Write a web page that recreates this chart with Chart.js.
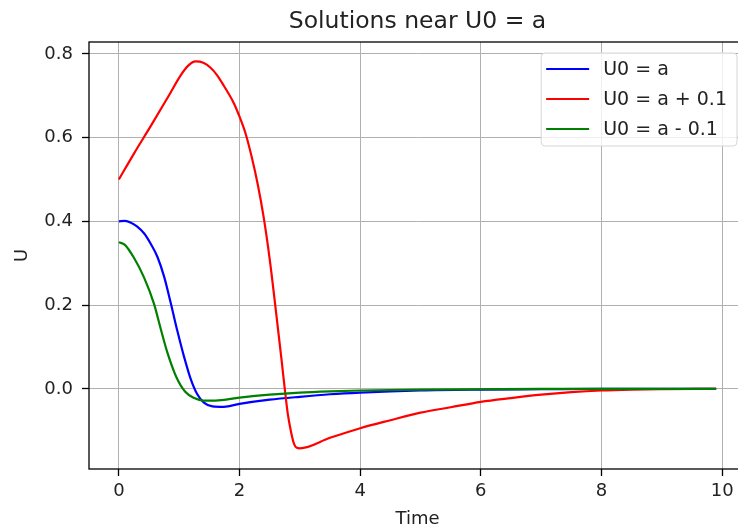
<!DOCTYPE html>
<html>
<head>
<meta charset="utf-8">
<title>Solutions near U0 = a</title>
<script src="https://cdn.jsdelivr.net/npm/chart.js@4.4.1/dist/chart.umd.min.js"></script>
<style>
    html, body { margin: 0; padding: 0; background: #fff; overflow: hidden; }
    canvas { display: block; }
</style>
</head>
<body>
<canvas id="chart" width="760" height="532"></canvas>
<script>
'use strict';

// values
var timeBlue = [0, 0.1, 0.2, 0.3, 0.42, 0.53, 0.64, 0.75, 0.86, 0.97, 1.08, 1.19, 1.3, 1.41, 1.55, 1.74, 2.0, 2.5, 3.0, 3.5, 4.0, 5.0, 6.0, 7.0, 8.0, 9.0, 9.9];
var uBlue = [0.400, 0.401, 0.397, 0.388, 0.371, 0.346, 0.315, 0.268, 0.205, 0.138, 0.077, 0.024, -0.013, -0.033, -0.042, -0.043, -0.036, -0.026, -0.019, -0.013, -0.009, -0.004, -0.002, -0.001, 0, 0, 0];

var timeRed = [0, 0.25, 0.53, 0.81, 1.03, 1.15, 1.27, 1.4, 1.52, 1.63, 1.74, 1.9, 2.0, 2.1, 2.2, 2.3, 2.4, 2.5, 2.6, 2.7, 2.75, 2.8, 2.85, 2.9, 2.95, 3.0, 3.5, 4.0, 4.5, 5.0, 5.5, 6.0, 6.5, 7.0, 7.5, 8.0, 8.5, 9.0, 9.9];
var uRed = [0.500, 0.562, 0.628, 0.696, 0.750, 0.772, 0.782, 0.779, 0.767, 0.749, 0.724, 0.684, 0.650, 0.610, 0.555, 0.490, 0.410, 0.310, 0.190, 0.065, 0.000, -0.060, -0.100, -0.130, -0.141, -0.142, -0.117, -0.094, -0.075, -0.057, -0.044, -0.031, -0.022, -0.014, -0.008, -0.004, -0.002, -0.001, 0];

var timeGreen = [0, 0.1, 0.25, 0.42, 0.58, 0.7, 0.81, 0.95, 1.1, 1.25, 1.4, 1.6, 2.0, 2.5, 3.0, 3.5, 4.0, 5.0, 6.0, 7.0, 8.0, 9.0, 9.9];
var uGreen = [0.350, 0.344, 0.313, 0.265, 0.204, 0.140, 0.084, 0.029, -0.007, -0.022, -0.028, -0.028, -0.021, -0.014, -0.009, -0.006, -0.004, -0.002, -0.001, 0, 0, 0, 0];

var seriesLabels = ['U0 = a', 'U0 = a + 0.1', 'U0 = a - 0.1'];
var seriesColors = ['#0000ff', '#ff0000', '#008000'];

var xTicks = [0, 2, 4, 6, 8, 10];
var yTicks = [0.0, 0.2, 0.4, 0.6, 0.8];

var FONT = "'DejaVu Sans', sans-serif";
var INK = '#222';

var toPoints = function (xs, ys) {
    return xs.map(function (x, i) { return { x: x, y: ys[i] }; });
};

var makeSet = function (index, xs, ys) {
    return {
        label: seriesLabels[index],
        data: toPoints(xs, ys),
        borderColor: seriesColors[index],
        backgroundColor: seriesColors[index],
        borderWidth: 2.2,
        pointRadius: 0,
        fill: false,
        cubicInterpolationMode: 'monotone',
        // later series on top, as matplotlib draws them
        order: seriesLabels.length - 1 - index
    };
};

// spines: matplotlib draws a box round the axes
var frame = {
    id: 'frame',
    afterDatasetsDraw: function (chart) {
        var a = chart.chartArea, ctx = chart.ctx;
        ctx.save();
        ctx.strokeStyle = '#000';
        ctx.lineWidth = 1.3;
        ctx.strokeRect(a.left, a.top, a.right - a.left, a.bottom - a.top);
        ctx.restore();
    }
};

// legend box in the upper right corner of the axes
var insetLegend = {
    id: 'insetLegend',
    afterDraw: function (chart, args, opts) {
        var ctx = chart.ctx,
            area = chart.chartArea,
            sets = chart.data.datasets,
            textW = 0, w, h, x, y, r = 4;

        ctx.save();
        ctx.font = opts.fontSize + 'px ' + FONT;
        sets.forEach(function (ds) {
            textW = Math.max(textW, ctx.measureText(ds.label).width);
        });

        w = opts.padLeft + opts.handle + opts.gap + textW + opts.padRight;
        h = opts.padTop + sets.length * opts.rowH + opts.padBottom;
        x = area.right - opts.insetRight - w;
        y = area.top + opts.insetTop;

        ctx.beginPath();
        ctx.moveTo(x + r, y);
        ctx.lineTo(x + w - r, y);
        ctx.arcTo(x + w, y, x + w, y + r, r);
        ctx.lineTo(x + w, y + h - r);
        ctx.arcTo(x + w, y + h, x + w - r, y + h, r);
        ctx.lineTo(x + r, y + h);
        ctx.arcTo(x, y + h, x, y + h - r, r);
        ctx.lineTo(x, y + r);
        ctx.arcTo(x, y, x + r, y, r);
        ctx.closePath();
        ctx.fillStyle = 'rgba(255, 255, 255, 0.8)';
        ctx.fill();
        ctx.strokeStyle = '#d6d6d6';
        ctx.lineWidth = 1;
        ctx.stroke();

        ctx.textBaseline = 'middle';
        ctx.textAlign = 'left';
        sets.forEach(function (ds, i) {
            var cy = y + opts.padTop + opts.rowH * (i + 0.5);
            ctx.strokeStyle = ds.borderColor;
            ctx.lineWidth = ds.borderWidth;
            ctx.beginPath();
            ctx.moveTo(x + opts.padLeft, cy);
            ctx.lineTo(x + opts.padLeft + opts.handle, cy);
            ctx.stroke();
            ctx.fillStyle = INK;
            ctx.fillText(ds.label, x + opts.padLeft + opts.handle + opts.gap, cy + 1);
        });
        ctx.restore();
    }
};

var chart = new Chart(document.getElementById('chart'), {
    type: 'line',
    data: {
        datasets: [
            makeSet(0, timeBlue, uBlue),
            makeSet(1, timeRed, uRed),
            makeSet(2, timeGreen, uGreen)
        ]
    },
    plugins: [frame, insetLegend],
    options: {
        responsive: false,
        animation: false,
        events: [],
        layout: { padding: { left: 0, right: 14, top: 0, bottom: 0 } },
        plugins: {
            legend: { display: false },
            tooltip: { enabled: false },
            title: {
                display: true,
                fullSize: false,
                text: 'Solutions near U0 = a',
                color: INK,
                font: { family: FONT, size: 23.5, weight: 'normal' },
                padding: { top: 8, bottom: 5.8 }
            },
            insetLegend: {
                fontSize: 19,
                rowH: 30,
                padTop: 1,
                padBottom: 2,
                padLeft: 5,
                padRight: 10,
                handle: 43,
                gap: 14,
                insetRight: 9,
                insetTop: 11
            }
        },
        scales: {
            x: {
                type: 'linear',
                min: -0.495,
                max: 10.395,
                afterFit: function (scale) { scale.height = 63; },
                afterBuildTicks: function (scale) {
                    scale.ticks = xTicks.map(function (v) { return { value: v }; });
                },
                border: { display: false },
                grid: {
                    color: '#b0b0b0',
                    lineWidth: 1,
                    drawTicks: true,
                    tickLength: 7,
                    tickColor: '#000',
                    tickWidth: 1.3
                },
                ticks: {
                    color: INK,
                    padding: 5,
                    maxRotation: 0,
                    font: { family: FONT, size: 18 },
                    callback: function (v) { return String(v); }
                },
                title: {
                    display: true,
                    text: 'Time',
                    color: INK,
                    font: { family: FONT, size: 18 },
                    padding: { top: 0, bottom: 2 }
                }
            },
            y: {
                type: 'linear',
                min: -0.1915,
                max: 0.8285,
                afterFit: function (scale) { scale.width = 89; },
                afterBuildTicks: function (scale) {
                    scale.ticks = yTicks.map(function (v) { return { value: v }; });
                },
                border: { display: false },
                grid: {
                    color: '#b0b0b0',
                    lineWidth: 1,
                    drawTicks: true,
                    tickLength: 7,
                    tickColor: '#000',
                    tickWidth: 1.3
                },
                ticks: {
                    color: INK,
                    padding: 9,
                    font: { family: FONT, size: 18 },
                    callback: function (v) { return v.toFixed(1); }
                },
                title: {
                    display: true,
                    text: 'U',
                    color: INK,
                    font: { family: FONT, size: 18 },
                    padding: { top: 12, bottom: 0 }
                }
            }
        }
    }
});
</script>
</body>
</html>
